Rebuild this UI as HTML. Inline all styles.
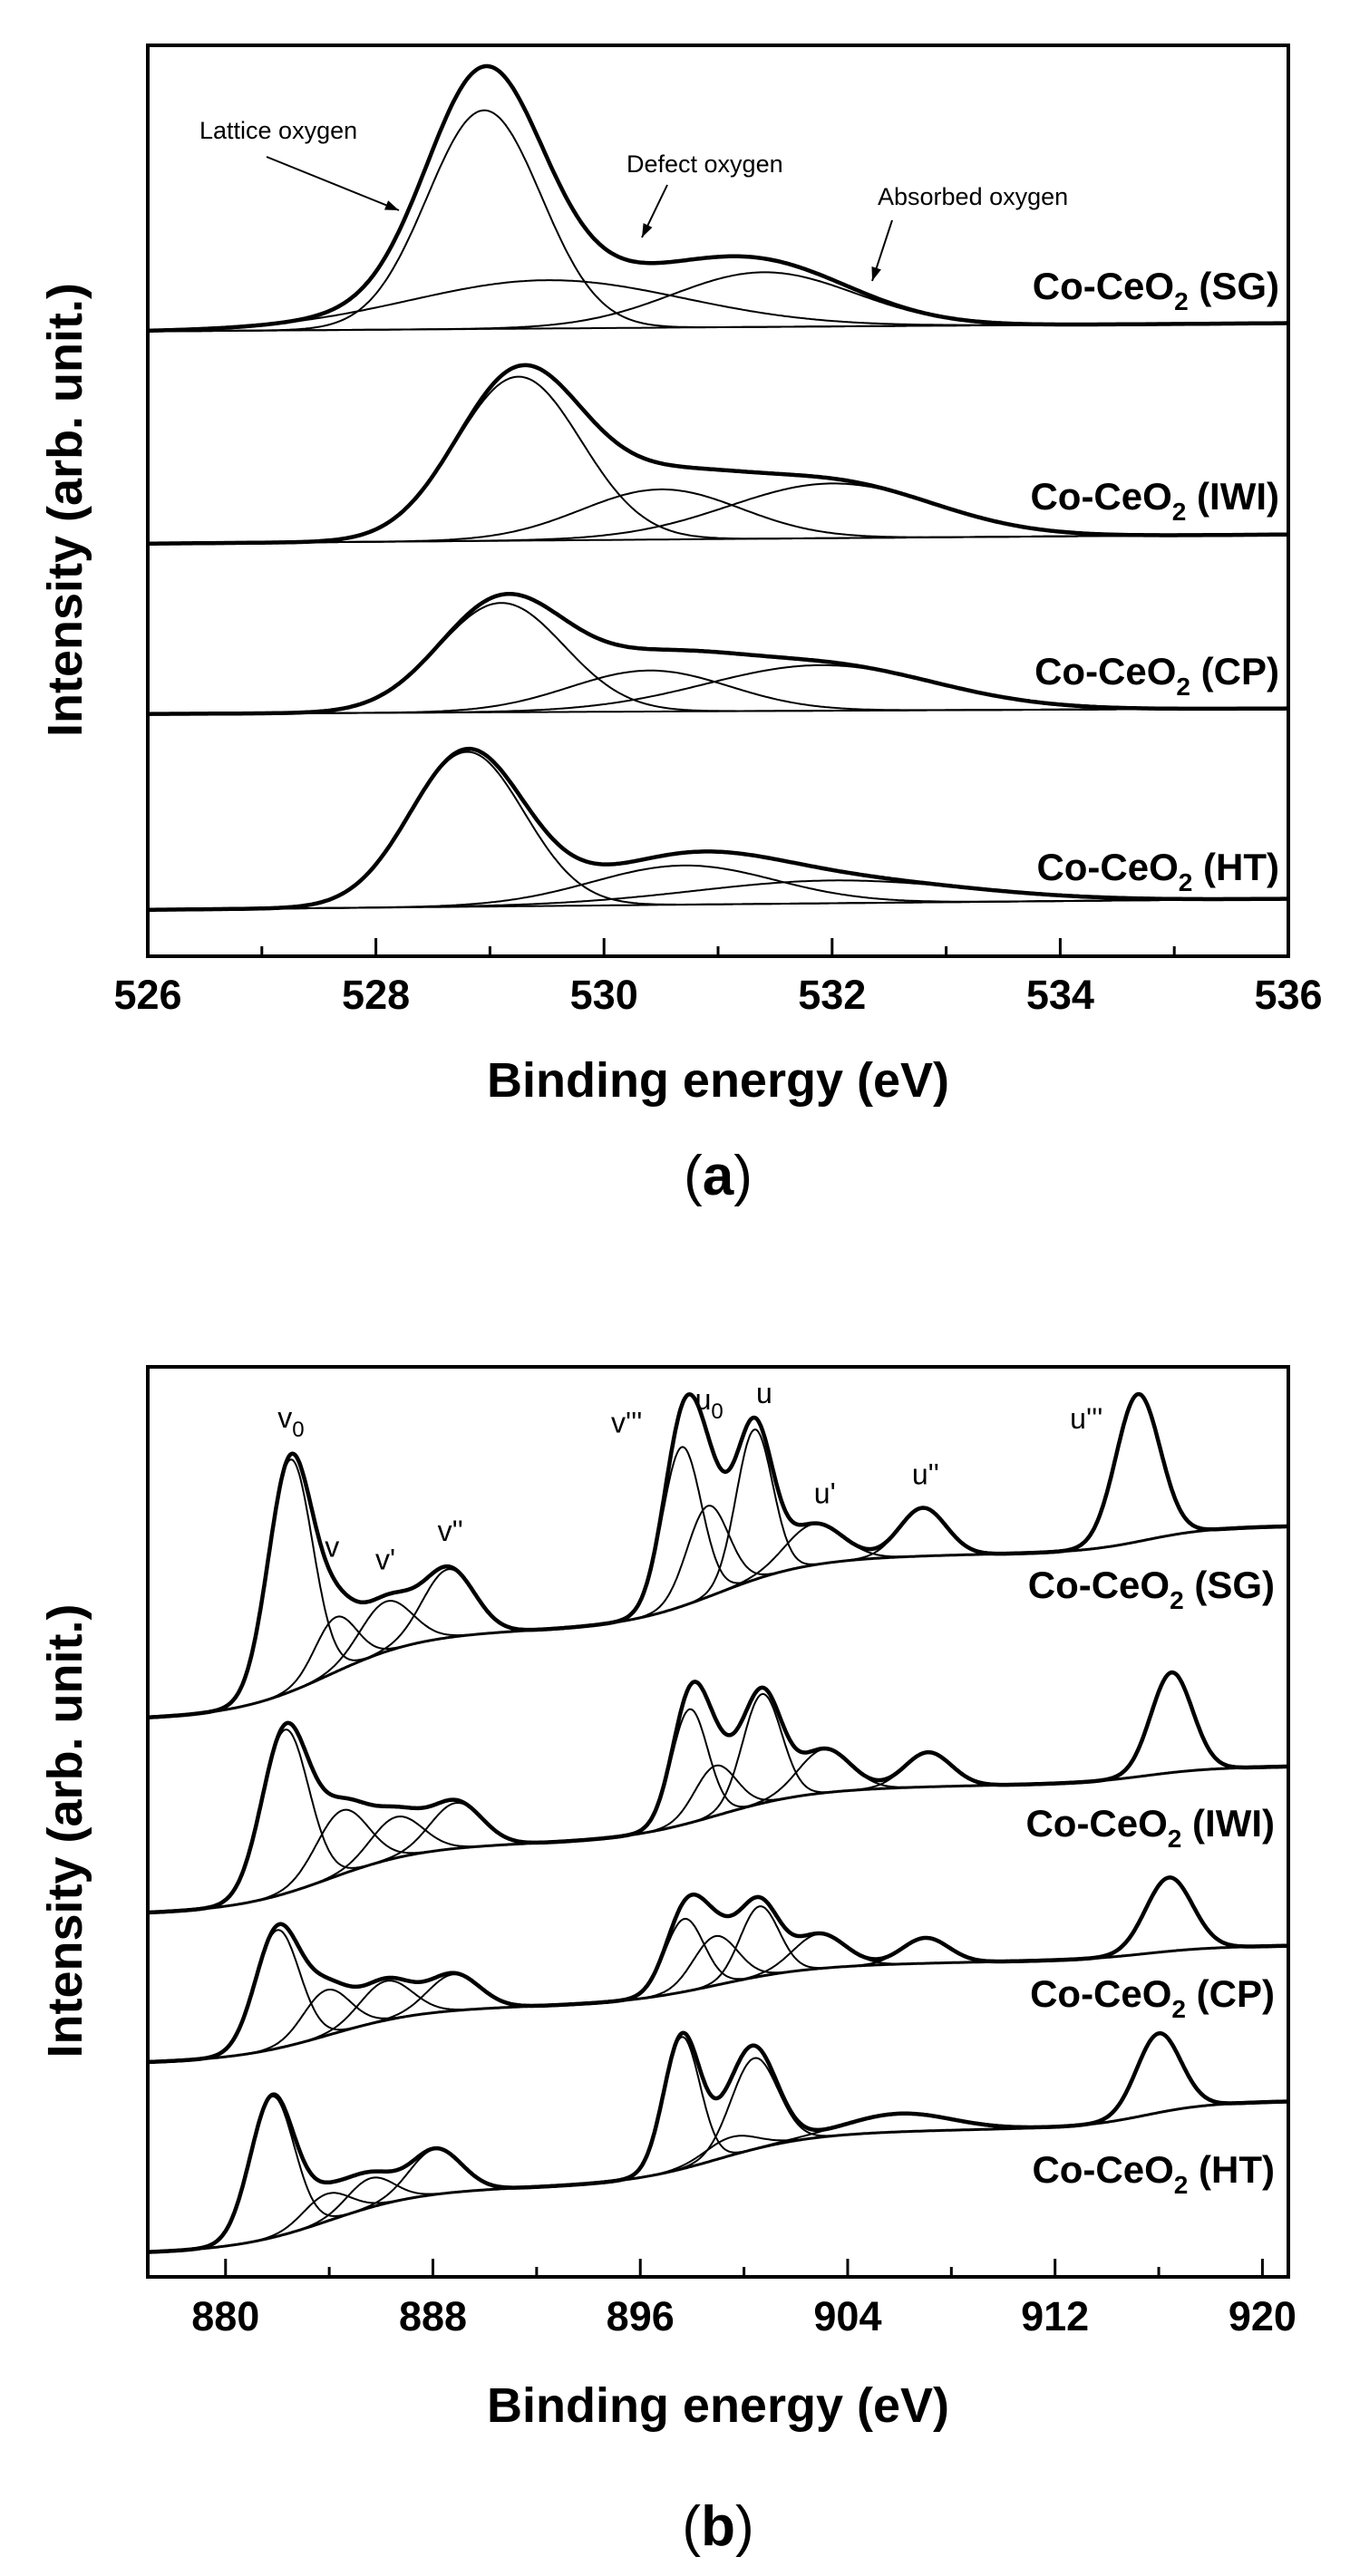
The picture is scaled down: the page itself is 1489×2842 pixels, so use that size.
<!DOCTYPE html>
<html><head><meta charset="utf-8"><style>
html,body{margin:0;padding:0;background:#fff;}
svg{display:block;}
text{font-family:"Liberation Sans",sans-serif;fill:#000;}
</style></head><body>
<svg id="fig" width="1489" height="2842" viewBox="0 0 1489 2842" xmlns="http://www.w3.org/2000/svg">
<g id="pa"></g>
<g id="pb"></g>
</svg>
<script>
// ---------- Panel (a) data: O 1s ----------
const aSamples = ["SG","IWI","CP","HT"];
const aBaseStart = [68.6, 45.3, 26.6, 5.1];
const aBaseEnd = [69.5, 46.3, 27.2, 6.3];
const aLatticeCenter = [528.95, 529.25, 529.1, 528.8];
const aLatticeHeight = [24, 18, 12, 17];
const aLatticeSigma = [0.5, 0.55, 0.55, 0.5];
const aDefectCenter = [529.5, 530.5, 530.4, 530.7];
const aDefectHeight = [5.3, 5.5, 4.5, 4.3];
const aDefectSigma = [1.2, 0.7, 0.7, 0.8];
const aAbsorbedCenter = [531.4, 532.0, 531.9, 532.0];
const aAbsorbedHeight = [6, 6, 5, 2.5];
const aAbsorbedSigma = [0.8, 0.9, 1.0, 1.2];
const aXTicks = [526,528,530,532,534,536];

// ---------- Panel (b) data: Ce 3d ----------
const bSamples = ["SG","IWI","CP","HT"];
const bPeakNames = ["v0","v","v'","v''","v'''","u0","u","u'","u''","u'''"];
const bCenters = [
 [882.5,884.25,886.2,888.6,897.6,898.6,900.4,902.7,906.9,915.2],
 [882.3,884.5,886.6,888.9,897.9,898.9,900.7,903.1,907.1,916.5],
 [882.0,883.9,886.2,888.8,897.7,898.9,900.6,902.9,907.0,916.4],
 [881.8,883.9,885.6,888.1,897.6,899.5,900.4,906.0,907.0,916.0]];
const bHeights = [
 [25.5,6,5.5,7.5,17.5,10,16.5,4.5,5.3,16.2],
 [18,7,4.5,5,12.5,5.5,12,4.8,3.8,11],
 [13,5,4.3,4,8,5.4,7.7,3.8,2.8,8.1],
 [15.5,3,3.2,5,14.5,2,10,2,0,8.7]];
const bSigmas = [
 [0.85,0.8,1.0,1.0,0.75,0.8,0.7,1.1,0.9,0.85],
 [0.9,1.0,1.0,1.0,0.7,0.8,0.75,1.0,0.9,0.8],
 [0.85,0.9,1.0,1.0,0.75,0.85,0.75,1.0,0.9,0.9],
 [0.85,0.9,0.9,1.0,0.7,1.0,0.9,2.0,0.9,0.85]];
const bBase0 = [61.3,39.9,23.5,2.6];
const bStep1 = [9.0,7.0,5.5,6.5];
const bStep2 = [7.5,5.5,4.0,5.5];
const bStep3 = [2.5,1.5,1.2,2.5];
const bXTicks = [880,888,896,904,912,920];
const bMinorTicks = [884,892,900,908,916];
const bLabelText = ["v","v","v'","v''","v'''","u","u","u'","u''","u'''"];
const bLabelSub = ["0","","","","","0","","","",""];

const NS="http://www.w3.org/2000/svg";
function mk(parent,tag,attrs){const e=document.createElementNS(NS,tag);for(const k in attrs)e.setAttribute(k,attrs[k]);parent.appendChild(e);return e;}
function gauss(x,c,h,s){return h*Math.exp(-((x-c)*(x-c))/(2*s*s));}

function drawPanel(g,cfg){
  const L=163,R=1421,T=cfg.top,B=cfg.bottom;
  const sx=v=>L+(v-cfg.x0)/(cfg.x1-cfg.x0)*(R-L);
  const sy=v=>B-v/100*(B-T);
  const box=mk(g,'rect',{x:L,y:T,width:R-L,height:B-T,fill:'none',stroke:'#000','stroke-width':4});
  
  
  cfg.major.forEach(t=>{
    const l=mk(g,'line',{x1:sx(t),x2:sx(t),y1:B,y2:B-20,stroke:'#000','stroke-width':3});
    
    
    const tx=mk(g,'text',{x:sx(t),y:cfg.tickY,'text-anchor':'middle','font-size':45,'font-weight':'bold'});
    tx.textContent=t;
    
    
  });
  cfg.minor.forEach(t=>{
    const l=mk(g,'line',{x1:sx(t),x2:sx(t),y1:B,y2:B-11,stroke:'#000','stroke-width':3});
    
    
  });
  const xt=mk(g,'text',{x:(L+R)/2,y:cfg.titleY,'text-anchor':'middle','font-size':54,'font-weight':'bold'});
  xt.textContent='Binding energy (eV)';
  
  
  const yc=(T+B)/2+10;
  const yt=mk(g,'text',{x:0,y:0,'text-anchor':'middle','font-size':54,'font-weight':'bold',transform:`translate(90,${yc}) rotate(-90)`});
  yt.textContent='Intensity (arb. unit.)';
  
  
  const pl=mk(g,'text',{x:(L+R)/2,y:cfg.labelY,'text-anchor':'middle','font-size':62,'font-family':'Liberation Serif, serif'});
  pl.innerHTML='(<tspan font-weight="bold">'+cfg.letter+'</tspan>)';
  
  
  return {sx,sy};
}
function pathFrom(g,xs,fn,sx,sy,w,name){
  let d='';xs.forEach((x,i)=>{d+=(i?'L':'M')+sx(x).toFixed(1)+' '+sy(fn(x)).toFixed(1);});
  const p=mk(g,'path',{d,fill:'none',stroke:'#000','stroke-width':w,'stroke-linejoin':'round'});
  
  
  return p;
}
function sampleLabel(g,x,y,name,id){
  const t=mk(g,'text',{x,y,'text-anchor':'end','font-size':42,'font-weight':'bold'});
  t.innerHTML='Co-CeO<tspan dy="12" font-size="28">2</tspan><tspan dy="-12"> ('+name+')</tspan>';
  
  
}

// ---- Panel a ----
(function(){
  const g=document.getElementById('pa');
  const {sx,sy}=drawPanel(g,{top:50,bottom:1055,x0:526,x1:536,major:aXTicks,minor:[527,529,531,533,535],tickY:1113,titleY:1210,labelY:1318,letter:'a'});
  const xs=[];for(let x=526;x<=536.001;x+=0.02)xs.push(x);
  const labelY=[330,562,755,971];
  aSamples.forEach((s,i)=>{
    const bg=x=>aBaseStart[i]+(aBaseEnd[i]-aBaseStart[i])*(x-526)/10;
    const lat=x=>gauss(x,aLatticeCenter[i],aLatticeHeight[i],aLatticeSigma[i]);
    const def=x=>gauss(x,aDefectCenter[i],aDefectHeight[i],aDefectSigma[i]);
    const abs=x=>gauss(x,aAbsorbedCenter[i],aAbsorbedHeight[i],aAbsorbedSigma[i]);
    pathFrom(g,xs,bg,sx,sy,2,'baseline-'+s);
    pathFrom(g,xs,x=>bg(x)+lat(x),sx,sy,2,'lattice-oxygen-fit-'+s);
    pathFrom(g,xs,x=>bg(x)+def(x),sx,sy,2,'defect-oxygen-fit-'+s);
    pathFrom(g,xs,x=>bg(x)+abs(x),sx,sy,2,'absorbed-oxygen-fit-'+s);
    pathFrom(g,xs,x=>bg(x)+lat(x)+def(x)+abs(x),sx,sy,4.5,'envelope-'+s);
    sampleLabel(g,1411,labelY[i],s,s.toLowerCase());
  });
  const ann=[['Lattice oxygen',220,153,294,173,440,232],['Defect oxygen',691,190,736,204,708,262],['Absorbed oxygen',968,226,984,243,962,310]];
  ann.forEach(a=>{
    const t=mk(g,'text',{x:a[1],y:a[2],'font-size':27});
    t.textContent=a[0];
    
    
    const l=mk(g,'line',{x1:a[3],y1:a[4],x2:a[5],y2:a[6],stroke:'#000','stroke-width':2});
    
    
    const ang=Math.atan2(a[6]-a[4],a[5]-a[3]);const hl=16,hw=0.35;
    const p=mk(g,'polygon',{points:`${a[5]},${a[6]} ${a[5]-hl*Math.cos(ang-hw)},${a[6]-hl*Math.sin(ang-hw)} ${a[5]-hl*Math.cos(ang+hw)},${a[6]-hl*Math.sin(ang+hw)}`,fill:'#000'});
    
    
  });
})();

// ---- Panel b ----
(function(){
  const g=document.getElementById('pb');
  const {sx,sy}=drawPanel(g,{top:1508,bottom:2512,x0:877,x1:921,major:bXTicks,minor:bMinorTicks,tickY:2571,titleY:2672,labelY:2808,letter:'b'});
  const xs=[];for(let x=877;x<=921.001;x+=0.05)xs.push(x);
  const labelY=[1763,2026,2214,2408];
  const sig=(x,c,w)=>1/(1+Math.exp(-(x-c)/w));
  let envSG=null;
  bSamples.forEach((s,i)=>{
    const bg=x=>bBase0[i]+0.05*(x-877)+bStep1[i]*sig(x,884,1.8)+bStep2[i]*sig(x,899,1.8)+bStep3[i]*sig(x,915.5,1.2);
    pathFrom(g,xs,bg,sx,sy,3,'background-'+s);
    bCenters[i].forEach((c,k)=>{
      if(bHeights[i][k]<=0)return;
      pathFrom(g,xs,x=>bg(x)+gauss(x,c,bHeights[i][k],bSigmas[i][k]),sx,sy,2,'component-'+bPeakNames[k]+'-'+s);
    });
    const env=x=>{let v=bg(x);bCenters[i].forEach((c,k)=>{v+=gauss(x,c,bHeights[i][k],bSigmas[i][k]);});return v;};
    if(i===0)envSG=env;
    pathFrom(g,xs,env,sx,sy,4.5,'envelope-'+s);
    sampleLabel(g,1406,labelY[i],s,s.toLowerCase());
  });
  // peak labels placed relative to SG peak positions (pixel offsets only)
  const offX=[-14,-12,-12,-12,-78,-14,2,0,-12,-75];
  const offY=[-30,-28,-28,-28,30,-28,-16,-22,-26,38];
  bCenters[0].forEach((c,k)=>{
    const x=sx(c)+offX[k];
    const y=sy(envSG(c))+offY[k];
    const t=mk(g,'text',{x:x,y:y,'font-size':32});
    t.innerHTML=bLabelText[k]+(bLabelSub[k]?'<tspan dy="10" font-size="24">'+bLabelSub[k]+'</tspan>':'');
    
    
  });
})();
</script>
</body></html>
